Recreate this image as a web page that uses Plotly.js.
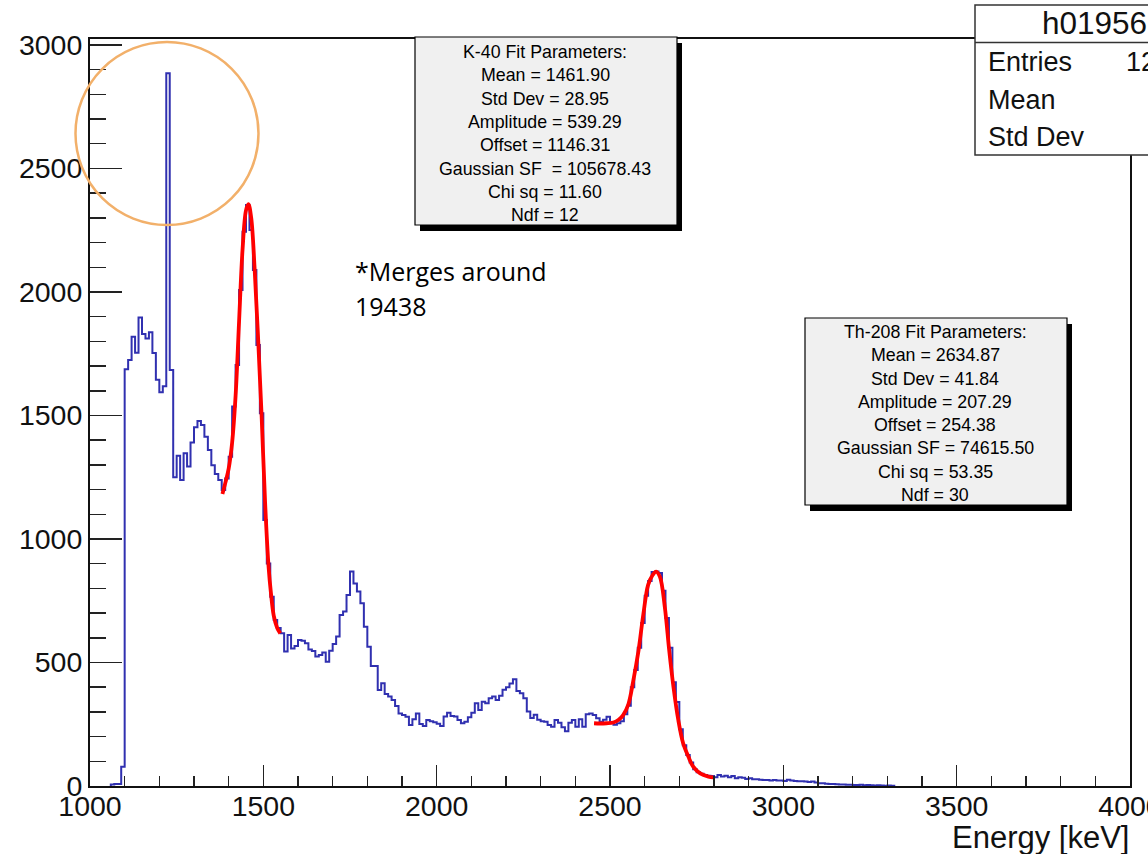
<!DOCTYPE html>
<html>
<head>
<meta charset="utf-8">
<script src="https://cdn.plot.ly/plotly-3.0.1.min.js"></script>
<style>
  html, body { margin: 0; padding: 0; background: #ffffff; }
  #chart { width: 1148px; height: 854px; }
</style>
</head>
<body>
<div id="chart"></div>
<script>
// ---------------- data ----------------
const binWidth = 10;          // keV
const firstBinLowEdge = 1060; // keV
const counts = [
  6, 8, 8, 78,
  1687, 1725, 1819, 1754, 1897, 1830, 1812, 1837, 1753, 1645,
  1594, 1618, 2885, 1684, 1250, 1337, 1239, 1347, 1293, 1391,
  1452, 1478, 1461, 1414, 1360, 1298, 1263, 1239, 1198, 1245,
  1333, 1536, 1704, 2008, 2244, 2352, 2251, 2089, 1785, 1509,
  1077, 901, 766, 672, 640, 618, 544, 611, 557, 567,
  591, 588, 578, 553, 547, 524, 530, 540, 503, 548,
  575, 605, 692, 706, 773, 868, 820, 787, 740, 645,
  564, 486, 486, 389, 416, 372, 362, 348, 324, 294,
  287, 280, 247, 270, 294, 251, 243, 267, 262, 258,
  252, 243, 281, 297, 283, 281, 267, 254, 260, 278,
  297, 335, 308, 341, 335, 355, 362, 348, 365, 390,
  400, 415, 432, 385, 375, 355, 302, 275, 288, 268,
  262, 260, 247, 240, 267, 256, 238, 222, 256, 267,
  240, 270, 240, 290, 294, 287, 274, 260, 268, 280,
  256, 248, 254, 262, 290, 325, 400, 470, 560, 660,
  770, 830, 866, 868, 862, 790, 680, 560, 420, 340,
  230, 165, 125, 95, 68, 56, 50, 45, 42, 40,
  35, 45, 38, 42, 35, 40, 31, 35, 33, 28,
  31, 27, 27, 25, 24, 24, 22, 24, 22, 22,
  20, 25, 22, 20, 19, 19, 18, 16, 18, 14,
  11, 11, 9, 8, 8, 7, 6, 6, 5, 5,
  4, 4, 5, 3, 4, 3, 2, 3, 2, 1,
  2, 1
];

// K-40 fit curve
const k40FitEnergy = [1382, 1390, 1400, 1410, 1420, 1430, 1440, 1450, 1457, 1465, 1475, 1485, 1495, 1505, 1515, 1522, 1530, 1540, 1549];
const k40FitCounts = [1182, 1225, 1285, 1390, 1580, 1880, 2170, 2330, 2355, 2300, 2090, 1810, 1500, 1150, 890, 780, 690, 640, 618];

// Th-208 fit curve
const th208FitEnergy = [2454, 2470, 2490, 2510, 2525, 2538, 2553, 2567, 2582, 2596, 2610, 2623, 2633, 2644, 2658, 2671, 2683, 2697, 2711, 2726, 2740, 2760, 2784, 2798];
const th208FitCounts = [254, 253, 254, 257, 268, 287, 331, 425, 546, 693, 814, 854, 868, 847, 726, 546, 402, 267, 173, 119, 78, 51, 38, 35];

const xTickValues = [1000, 1500, 2000, 2500, 3000, 3500, 4000];
const yTickValues = [0, 500, 1000, 1500, 2000, 2500, 3000];

const k40Lines = ["K-40 Fit Parameters:", "Mean = 1461.90", "Std Dev = 28.95", "Amplitude = 539.29",
  "Offset = 1146.31", "Gaussian SF  = 105678.43", "Chi sq = 11.60", "Ndf = 12"];
const th208Lines = ["Th-208 Fit Parameters:", "Mean = 2634.87", "Std Dev = 41.84", "Amplitude = 207.29",
  "Offset = 254.38", "Gaussian SF = 74615.50", "Chi sq = 53.35", "Ndf = 30"];
const statsTitle = "h01956";
const statsRows = ["Entries", "Mean", "Std Dev"];
const statsEntriesValue = "12";
const noteLines = ["*Merges around", "19438"];
const xAxisTitle = "Energy [keV]";

// ---------------- build histogram outline ----------------
const stepX = [firstBinLowEdge];
const stepY = [0];
for (let i = 0; i < counts.length; i++) {
  stepX.push(firstBinLowEdge + i * binWidth);
  stepY.push(counts[i]);
}
stepX.push(firstBinLowEdge + counts.length * binWidth);
stepY.push(0);

// ---------------- geometry helpers (pixel -> paper) ----------------
const W = 1148, H = 854;
const M = { l: 90, r: 18, t: 39, b: 68 };
const PW = W - M.l - M.r, PH = H - M.t - M.b;
const px = x => (x - M.l) / PW;
const py = y => (H - M.b - y) / PH;

const FONT = 'Liberation Sans, Arial, sans-serif';
const shapes = [];
const annotations = [];

function statBox(x0, y0, x1, y1, lines, cx, yStart, dy) {
  shapes.push({ type: 'rect', xref: 'paper', yref: 'paper', layer: 'above',
    x0: px(x0 + 5), x1: px(x1 + 5), y0: py(y0 + 6), y1: py(y1 + 6),
    fillcolor: '#000000', line: { width: 0 } });
  shapes.push({ type: 'rect', xref: 'paper', yref: 'paper', layer: 'above',
    x0: px(x0), x1: px(x1), y0: py(y0), y1: py(y1),
    fillcolor: '#f0f0f0', line: { color: '#000000', width: 1.2 } });
  lines.forEach((t, i) => {
    annotations.push({ xref: 'paper', yref: 'paper', x: px(cx), y: py(yStart + i * dy),
      xanchor: 'center', yanchor: 'middle', showarrow: false, text: t,
      font: { family: FONT, size: 17.8, color: '#000000' } });
  });
}
statBox(415, 37, 677, 225, k40Lines, 545, 52, 23.3);
statBox(805, 318, 1067, 505, th208Lines, 935, 332, 23.3);

// stats box top-right
shapes.push({ type: 'rect', xref: 'paper', yref: 'paper', layer: 'above',
  x0: px(975), x1: px(1170), y0: py(5), y1: py(155),
  fillcolor: '#ffffff', line: { color: '#333333', width: 1.5 } });
shapes.push({ type: 'line', xref: 'paper', yref: 'paper', layer: 'above',
  x0: px(975), x1: px(1170), y0: py(42.5), y1: py(42.5),
  line: { color: '#333333', width: 1.5 } });
annotations.push({ xref: 'paper', yref: 'paper', x: px(1040), y: py(23), xanchor: 'left', yanchor: 'middle',
  showarrow: false, text: statsTitle, font: { family: FONT, size: 31.5, color: '#111' } });
statsRows.forEach((t, i) => {
  annotations.push({ xref: 'paper', yref: 'paper', x: px(986), y: py(62 + i * 37.5), xanchor: 'left', yanchor: 'middle',
    showarrow: false, text: t, font: { family: FONT, size: 27, color: '#111' } });
});
annotations.push({ xref: 'paper', yref: 'paper', x: px(1124), y: py(62), xanchor: 'left', yanchor: 'middle',
  showarrow: false, text: statsEntriesValue, font: { family: FONT, size: 27, color: '#111' } });

// orange circle
shapes.push({ type: 'circle', xref: 'paper', yref: 'paper', layer: 'above',
  x0: px(75.5), x1: px(258.5), y0: py(42), y1: py(225),
  line: { color: '#f2b06a', width: 2.5 } });

// note text
noteLines.forEach((t, i) => {
  annotations.push({ xref: 'paper', yref: 'paper', x: px(353), y: py(271 + i * 35), xanchor: 'left', yanchor: 'middle',
    showarrow: false, text: t, font: { family: 'Open Sans, sans-serif', size: 25, color: '#000' } });
});

// x axis title (right aligned, ROOT style)
annotations.push({ xref: 'paper', yref: 'paper', x: px(1131), y: py(837), xanchor: 'right', yanchor: 'middle',
  showarrow: false, text: xAxisTitle, font: { family: FONT, size: 31, color: '#111' } });

const traces = [
  { type: 'scatter', mode: 'lines', x: stepX, y: stepY,
    line: { shape: 'hv', color: '#3030b0', width: 2 }, hoverinfo: 'skip', showlegend: false },
  { type: 'scatter', mode: 'lines', x: k40FitEnergy, y: k40FitCounts,
    line: { shape: 'spline', smoothing: 1, color: '#ff0000', width: 3.8 }, showlegend: false },
  { type: 'scatter', mode: 'lines', x: th208FitEnergy, y: th208FitCounts,
    line: { shape: 'spline', smoothing: 1, color: '#ff0000', width: 3.8 }, showlegend: false }
];

const axisFont = { family: FONT, size: 28.5, color: '#111111' };

const layout = {
  width: W, height: H,
  margin: M,
  paper_bgcolor: '#ffffff', plot_bgcolor: '#ffffff',
  showlegend: false,
  xaxis: {
    range: [1000, 4000], showgrid: false, zeroline: false,
    showline: true, linecolor: '#111111', linewidth: 2, mirror: true,
    tickmode: 'array', tickvals: xTickValues, ticktext: xTickValues.map(String),
    ticks: 'inside', ticklen: 21, tickwidth: 1.5, tickcolor: '#222222',
    minor: { ticks: 'inside', dtick: 100, ticklen: 10, tickwidth: 1.5, tickcolor: '#222222', showgrid: false },
    ticklabeloverflow: 'allow', ticklabelstandoff: -6,
    tickfont: axisFont, title: { text: '' }
  },
  yaxis: {
    range: [0, 3024], showgrid: false, zeroline: false,
    showline: true, linecolor: '#111111', linewidth: 2, mirror: true,
    tickmode: 'array', tickvals: yTickValues, ticktext: yTickValues.map(String),
    ticks: 'inside', ticklen: 32, tickwidth: 1.5, tickcolor: '#222222',
    minor: { ticks: 'inside', dtick: 100, ticklen: 16, tickwidth: 1.5, tickcolor: '#222222', showgrid: false },
    ticklabeloverflow: 'allow',
    tickfont: axisFont, title: { text: '' }
  },
  shapes: shapes,
  annotations: annotations
};

Plotly.newPlot('chart', traces, layout, { staticPlot: true, displayModeBar: false });
</script>
</body>
</html>
